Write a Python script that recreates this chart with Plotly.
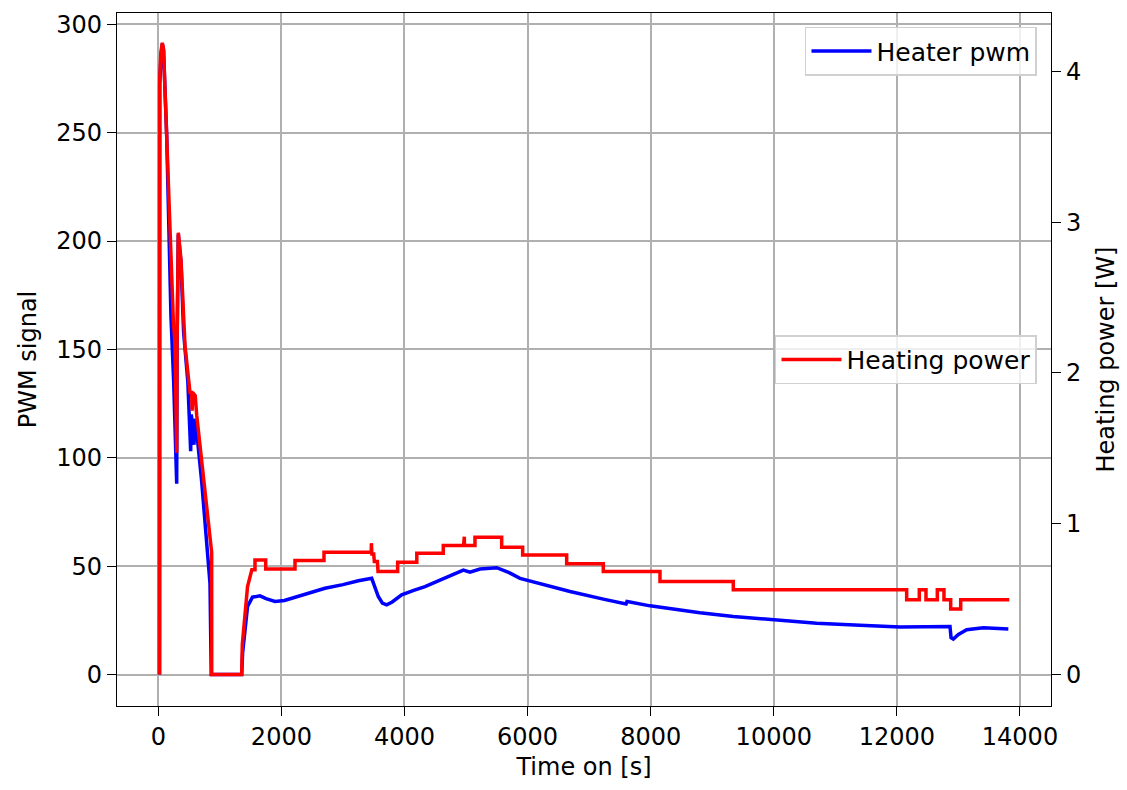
import plotly.graph_objects as go

# Heater PWM signal (left axis)
pwm_t = [20, 23, 45, 65, 85, 100, 136, 206, 250, 299, 305, 325, 369, 411, 480, 526, 535, 560, 580, 590,
         624, 705, 780, 840, 860, 1355, 1370, 1400, 1450, 1530, 1652, 1750, 1896, 2050, 2167, 2400, 2708,
         3000, 3251, 3467, 3520, 3574, 3640, 3710, 3800, 3954, 4150, 4333, 4577, 4800, 4956, 5064, 5227,
         5498, 5700, 5877, 6039, 6350, 6689, 7230, 7580, 7600, 7615, 7640, 7989, 8260, 8800, 9342, 10000,
         10697, 11400, 12050, 12863, 12880, 12917, 13000, 13134, 13405, 13811]
pwm_v = [0, 272, 286, 291, 288, 274, 249, 165, 135, 88, 150, 203, 190, 158, 135, 103, 120, 115, 106, 118,
         112, 89, 65, 42, 0, 0, 10, 19, 31.4, 35.7, 36.3, 35.0, 33.7, 34.2, 35.2, 37.5, 39.8,
         41.5, 43.3, 44.4, 40.0, 36.0, 33.0, 32.2, 33.5, 36.8, 38.8, 40.6, 43.6, 46.3, 48.2, 47.2, 48.7,
         49.3, 47.0, 44.4, 43.2, 40.8, 38.3, 34.8, 33.0, 32.6, 33.7, 33.6, 31.7, 30.6, 28.5, 26.8, 25.3,
         23.7, 22.8, 21.9, 22.2, 17.0, 16.4, 18.5, 20.7, 21.6, 21.0]

# Heating power in W (right axis)
pow_t = [20, 23, 40, 65, 85, 100, 136, 200, 244, 271, 299, 305, 325, 345, 369, 434, 515, 542, 550, 560,
         600, 624, 705, 840, 867, 868, 1355, 1365, 1400, 1450, 1520, 1571, 1571, 1745, 1745, 2221, 2221,
         2692, 2692, 3460, 3462, 3467, 3470, 3500, 3510, 3560, 3570, 3889, 3889, 4200, 4200, 4630, 4630,
         4960, 4962, 4972, 4974, 5145, 5145, 5579, 5579, 5920, 5920, 6635, 6635, 7230, 7230, 8151, 8151,
         9342, 9342, 12159, 12159, 12364, 12364, 12473, 12473, 12657, 12657, 12765, 12765, 12874, 12874,
         13037, 13037, 13826]
pow_v = [0, 3.95, 4.12, 4.19, 4.15, 3.98, 3.59, 2.88, 2.35, 2.20, 1.47, 2.20, 2.93, 2.85, 2.75, 2.18, 1.87,
         1.87, 1.75, 1.87, 1.85, 1.72, 1.40, 0.89, 0.81, 0, 0, 0.20, 0.385, 0.584, 0.694, 0.694, 0.76, 0.76,
         0.70, 0.70, 0.756, 0.756, 0.811, 0.811, 0.871, 0.811, 0.80, 0.80, 0.749, 0.749, 0.683, 0.683, 0.745,
         0.745, 0.805, 0.805, 0.855, 0.855, 0.914, 0.914, 0.855, 0.855, 0.91, 0.91, 0.844, 0.844, 0.793,
         0.793, 0.734, 0.734, 0.683, 0.683, 0.617, 0.617, 0.562, 0.562, 0.496, 0.496, 0.562, 0.562, 0.496,
         0.496, 0.562, 0.562, 0.496, 0.496, 0.434, 0.434, 0.496, 0.496]

x_ticks = [0, 2000, 4000, 6000, 8000, 10000, 12000, 14000]
x_tick_labels = ["0", "2000", "4000", "6000", "8000", "10000", "12000", "14000"]
y_ticks = [0, 50, 100, 150, 200, 250, 300]
y2_ticks = [0, 1, 2, 3, 4]

FONT = "DejaVu Sans"
FS = 24

fig = go.Figure()
fig.add_trace(go.Scatter(x=pwm_t, y=pwm_v, mode="lines", name="Heater pwm",
                         line=dict(color="#0000ff", width=3.5), yaxis="y", legend="legend"))
fig.add_trace(go.Scatter(x=pow_t, y=pow_v, mode="lines", name="Heating power",
                         line=dict(color="#ff0000", width=3.5), yaxis="y2", legend="legend2"))

axis_common = dict(showline=True, linecolor="black", linewidth=1.3, ticks="outside", ticklen=9,
                   tickwidth=1.3, tickcolor="black", tickfont=dict(family=FONT, size=FS, color="black"),
                   zeroline=False)

legend_common = dict(xanchor="right", yanchor="top", bgcolor="rgba(255,255,255,0.8)",
                     bordercolor="#d0d0d0", borderwidth=1.5, itemwidth=60,
                     font=dict(family=FONT, size=25, color="black"))

fig.update_layout(
    width=1127, height=790,
    margin=dict(l=117, r=76, t=11, b=84),
    paper_bgcolor="white", plot_bgcolor="white",
    font=dict(family=FONT, size=FS, color="black"),
    xaxis=dict(range=[-671, 14504], tickvals=x_ticks, ticktext=x_tick_labels, showgrid=True,
               gridcolor="#b0b0b0", gridwidth=2, mirror=True,
               title=dict(text="Time on [s]", font=dict(family=FONT, size=FS), standoff=8),
               **axis_common),
    yaxis=dict(range=[-14.5, 305.2], tickvals=y_ticks, showgrid=True, gridcolor="#b0b0b0", gridwidth=2,
               title=dict(text="PWM signal", font=dict(family=FONT, size=FS), standoff=12),
               **axis_common),
    yaxis2=dict(range=[-0.209, 4.388], tickvals=y2_ticks, overlaying="y", side="right", showgrid=False,
                title=dict(text="Heating power [W]", font=dict(family=FONT, size=FS), standoff=16),
                **axis_common),
    legend=dict(x=0.985, y=0.98, **legend_common),
    legend2=dict(x=0.985, y=0.535, **legend_common),
    showlegend=True,
)

fig.write_html("out.html")
